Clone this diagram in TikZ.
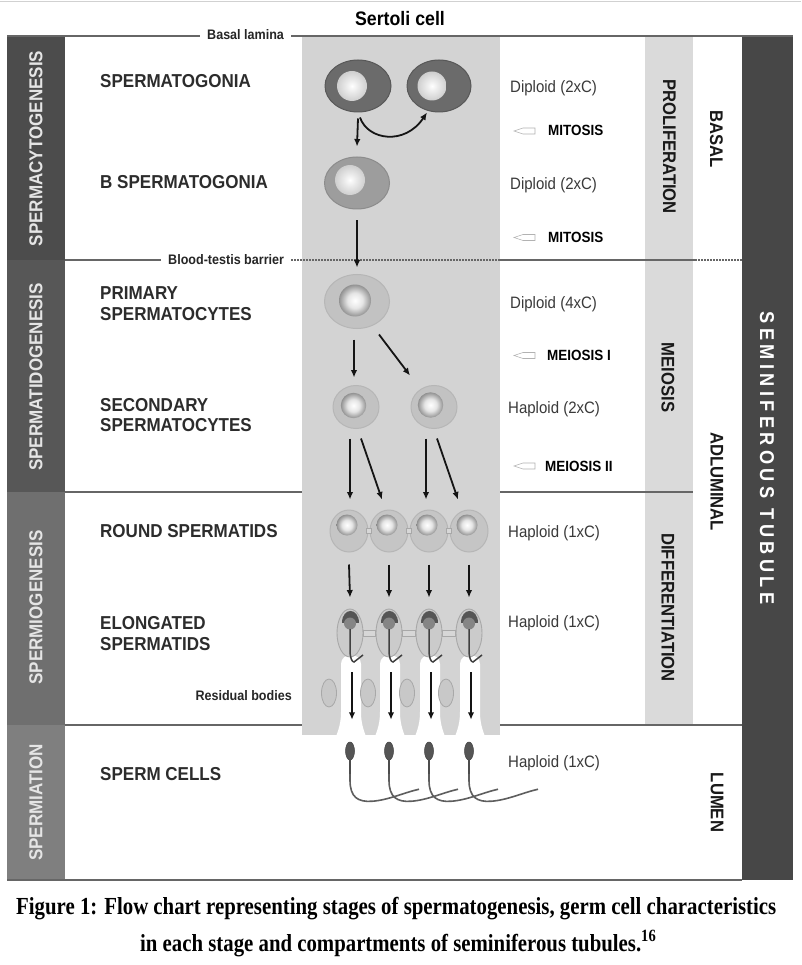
\documentclass[tikz,border=0pt]{standalone}
\usepackage{fontspec}
\setmainfont{Liberation Serif}
\setsansfont{Liberation Sans}[FakeStretch=0.91]
\usetikzlibrary{shapes.geometric,arrows.meta}
\definecolor{lbltxt}{HTML}{2C2C2C}
\definecolor{ploidtxt}{HTML}{3A3A3A}
\definecolor{linec}{HTML}{666666}
\definecolor{sertoli}{HTML}{D3D3D3}
\definecolor{prolif}{HTML}{DADADA}
\definecolor{colA}{HTML}{4C4C4C}
\definecolor{colB}{HTML}{575757}
\definecolor{colC}{HTML}{6F6F6F}
\definecolor{colD}{HTML}{7F7F7F}
\definecolor{barc}{HTML}{474747}
\definecolor{sgfill}{HTML}{6B6B6B}
\definecolor{sgdraw}{HTML}{585858}
\definecolor{bfill}{HTML}{9D9D9D}
\definecolor{bdraw}{HTML}{8C8C8C}
\definecolor{cfill}{HTML}{C2C2C2}
\definecolor{cdraw}{HTML}{B6B6B6}
\definecolor{efill}{HTML}{CBCBCB}
\definecolor{edraw}{HTML}{A8A8A8}
\definecolor{headc}{HTML}{555555}
\definecolor{tailc}{HTML}{5E5E5E}
\pgfdeclareradialshading{sgnuc}{\pgfpoint{0bp}{0bp}}{color(0bp)=(white); color(10bp)=(white!92!black); color(40bp)=(black!30); color(50bp)=(black!40)}
\pgfdeclareradialshading{spnuc}{\pgfpoint{0bp}{0bp}}{color(0bp)=(white); color(12bp)=(white!90!black); color(30bp)=(black!55); color(38bp)=(black!80); color(50bp)=(black!85)}
\begin{document}
\begin{tikzpicture}[x=1pt,y=-1pt,
  lbl/.style={anchor=base west, inner sep=0, text=lbltxt, font=\sffamily\bfseries\fontsize{18.7}{21}\selectfont},
  ploid/.style={anchor=base west, inner sep=0, text=ploidtxt, font=\sffamily\fontsize{16.5}{18}\selectfont},
  divlbl/.style={anchor=base west, inner sep=0, text=black, font=\sffamily\bfseries\fontsize{14.8}{16}\selectfont},
  smalllbl/.style={anchor=base west, inner sep=0, text=black!85, font=\sffamily\bfseries\fontsize{13.8}{15}\selectfont},
  vlab/.style={rotate=90, inner sep=0, text=white!90!black, font=\sffamily\bfseries\fontsize{18.7}{20}\selectfont},
  rlab/.style={rotate=-90, inner sep=0, text=black!90, font=\sffamily\bfseries\fontsize{18.3}{20}\selectfont},
  sepline/.style={draw=linec, line width=1.5},
  dotline/.style={draw=linec, line width=1.5, dash pattern=on 1.5pt off 1.5pt},
  arr/.style={draw=black!92, line width=1.8, -{Latex[length=7.5pt,width=6.5pt]}},
  cellA/.style={ellipse, inner sep=0, fill=sgfill, draw=sgdraw, line width=1},
  cellB/.style={ellipse, inner sep=0, fill=bfill, draw=bdraw, line width=1},
  cellC/.style={ellipse, inner sep=0, fill=cfill, draw=cdraw, line width=1},
  cellE/.style={ellipse, inner sep=0, fill=efill, draw=edraw, line width=0.9},
  resid/.style={ellipse, inner sep=0, minimum width=15, minimum height=28, fill=sertoli!95!black, draw=edraw, line width=0.8},
  bridge/.style={fill=sertoli!90!white, draw=edraw, line width=0.6},
  ptrshape/.style={draw=black!30, fill=white, line width=0.6}
]
\useasboundingbox (0,0) rectangle (801,965);
\fill[white] (0,0) rectangle (801,965);
\draw[black!18, line width=1] (0,2) -- (801,2);

% columns
\fill[colA] (7,36) rectangle (65,260);
\fill[colB] (7,260) rectangle (65,492);
\fill[colC] (7,492) rectangle (65,725);
\fill[colD] (7,725) rectangle (65,880);
\fill[barc] (742,36) rectangle (793,880);
\fill[prolif] (645,36) rectangle (693,725);

% Sertoli cell body with lumen gaps
\fill[sertoli] (302,36) rectangle (500,735);
\foreach \g in {351,390,430,470} {
  \fill[white] (\g-17,742) .. controls (\g-14,733) and (\g-10,726) .. (\g-10,712) -- (\g-10,664)
     .. controls (\g-10,652) and (\g+10,652) .. (\g+10,664) -- (\g+10,712)
     .. controls (\g+10,726) and (\g+14,733) .. (\g+17,742) -- cycle;
}

% title
\node[inner sep=0, font=\sffamily\bfseries\fontsize{19.5}{21}\selectfont] (title) at (400,19) {Sertoli cell};

% separating lines
\node[smalllbl] (bl) at (207,40) {Basal lamina};
\draw[sepline] (7,36) -- ([xshift=-7pt]bl.west |- 0,36);
\draw[sepline] ([xshift=7pt]bl.east |- 0,36) -- (793,36);
\node[smalllbl] (btb) at (168,265) {Blood-testis barrier};
\draw[sepline] (65,260) -- ([xshift=-7pt]btb.west |- 0,260);
\draw[dotline] ([xshift=7pt]btb.east |- 0,260) -- (500,260);
\draw[sepline] (500,260) -- (695,260);
\draw[dotline] (695,260) -- (742,260);
\draw[sepline] (65,492) -- (302,492);
\draw[sepline] (500,492) -- (693,492);
\draw[sepline] (65,725) -- (302,725);
\draw[sepline] (500,725) -- (742,725);
\draw[sepline] (7,880) -- (742,880);

% left column labels
\node[vlab] (v1) at (36,148.5) {SPERMACYTOGENESIS};
\node[vlab] (v2) at (36,377) {SPERMATIDOGENESIS};
\node[vlab] (v3) at (36,607.5) {SPERMIOGENESIS};
\node[vlab] (v4) at (36,802.5) {SPERMIATION};

% stage labels
\node[lbl] (l1) at (100,88) {SPERMATOGONIA};
\node[lbl] (l2) at (100,189) {B SPERMATOGONIA};
\node[lbl] (l3a) at (100,299) {PRIMARY};
\node[lbl] (l3b) at (100,320) {SPERMATOCYTES};
\node[lbl] (l4a) at (100,411) {SECONDARY};
\node[lbl] (l4b) at (100,431) {SPERMATOCYTES};
\node[lbl] (l5) at (100,537) {ROUND SPERMATIDS};
\node[lbl] (l6a) at (100,629) {ELONGATED};
\node[lbl] (l6b) at (100,650) {SPERMATIDS};
\node[lbl] (l7) at (100,780) {SPERM CELLS};
\node[smalllbl, anchor=base east] (rbl) at (292,700) {Residual bodies};

% ploidy labels
\node[ploid] (p1) at (510,93) {Diploid (2xC)};
\node[ploid] (p2) at (510,189.5) {Diploid (2xC)};
\node[ploid] (p3) at (510,308) {Diploid (4xC)};
\node[ploid] (p4) at (508,413) {Haploid (2xC)};
\node[ploid] (p5) at (508,537) {Haploid (1xC)};
\node[ploid] (p6) at (508,627) {Haploid (1xC)};
\node[ploid] (p7) at (508,767) {Haploid (1xC)};

% division labels with pointers
\foreach \yy/\nm/\txt/\xx in {131/d1/MITOSIS/548, 237.5/d2/MITOSIS/548, 355.5/d3/MEIOSIS I/547, 466/d4/MEIOSIS II/545} {
  \filldraw[ptrshape] (514,\yy) -- (523,\yy-3) -- (535,\yy-3) -- (535,\yy+3) -- (523,\yy+3) -- cycle;
  \node[divlbl] (\nm) at (\xx,\yy+5) {\txt};
}

% right column labels
\node[rlab] (c1) at (669.5,146.5) {PROLIFERATION};
\node[rlab] (c2) at (668,377.5) {MEIOSIS};
\node[rlab] (c3) at (668,607.5) {DIFFERENTIATION};
\node[rlab] (c4) at (716.5,139.5) {BASAL};
\node[rlab] (c5) at (716.7,481.5) {ADLUMINAL};
\node[rlab] (c6) at (717,802.5) {LUMEN};
\node[rotate=-90, inner sep=0, text=white, font=\sffamily\bfseries\fontsize{20}{22}\selectfont] (tub) at (767,458)
  {\addfontfeatures{LetterSpace=22}SEMINIFEROUS\hspace{10pt}TUBULE};

% spermatogonia
\node[cellA, minimum width=66, minimum height=52] (sg1) at (358,86) {};
\node[cellA, minimum width=64, minimum height=52] (sg2) at (439,86) {};
\shade[shading=sgnuc] (352,86) circle[radius=15];
\shade[shading=sgnuc] (432,86) circle[radius=14.5];
\node[cellB, minimum width=65, minimum height=52] (bsg) at (357,183) {};
\shade[shading=sgnuc] (350,180) circle[radius=15];

% spermatocytes
\node[cellC, minimum width=65, minimum height=54] (ps) at (357,301.5) {};
\shade[shading=spnuc] (355,300.5) circle[radius=16];
\node[cellC, minimum width=46, minimum height=43] (ss1) at (356,407) {};
\node[cellC, minimum width=46, minimum height=43] (ss2) at (434,407) {};
\shade[shading=spnuc] (353.5,405.5) circle[radius=12.7];
\shade[shading=spnuc] (430.5,405) circle[radius=12.7];

% round spermatids
\foreach \i/\x in {1/349,2/389,3/429,4/469} {
  \node[cellC, fill=cfill!80!sertoli, minimum width=38, minimum height=42] (rs\i) at (\x,531) {};
}
\foreach \i/\j in {1/2,2/3,3/4} {
  \filldraw[bridge] ([yshift=2.5pt,xshift=-2pt]rs\i.east) rectangle ([yshift=-2.5pt,xshift=2pt]rs\j.west);
}
\foreach \x in {349,389,429,469} {
  \shade[shading=spnuc] (\x-2,525) circle[radius=10.5];
}

% elongated spermatids
\foreach \i/\x in {1/350,2/389,3/429,4/469} {
  \node[cellE, minimum width=26, minimum height=48] (es\i) at (\x,633) {};
}
\foreach \i/\j in {1/2,2/3,3/4} {
  \filldraw[bridge] ([yshift=3pt]es\i.east) rectangle ([yshift=-3pt]es\j.west);
}
\foreach \x in {350,389,429,469} {
  \fill[headc] (\x-8.5,623) .. controls (\x-8.5,607) and (\x+8.5,607) .. (\x+8.5,623) -- cycle;
  \fill[black!48] (\x,623.5) circle[radius=6];
  \draw[black!75, line width=1.5] (\x,629) -- (\x,650) .. controls (\x,658) and (\x+2,662) .. (\x+4,662) -- (\x+13,655);
}

% residual bodies
\foreach \i/\x in {1/329,2/368,3/407,4/446} {
  \node[resid] (rb\i) at (\x,693) {};
}

% sperm cells
\foreach \i/\x in {1/350,2/389,3/429,4/469} {
  \node[ellipse, inner sep=0, minimum width=9, minimum height=18, fill=headc, draw=black!75, line width=0.5] (sp\i) at (\x,751) {};
  \draw[tailc, line width=1.6] (sp\i.south) -- ++(0,20)
     .. controls +(0,17) and +(-14,1) .. ++(22,21)
     .. controls +(16,-1) and +(-14,3) .. ++(47,-12);
  \draw[black!70, line width=2] (sp\i.south) -- ++(0,14);
}

% arrows
\draw[arr] ([yshift=-6pt]sg1.south) -- ([yshift=10pt]bsg.north);
\draw[arr] ([xshift=2pt,yshift=-5pt]sg1.south) .. controls +(8,23) and +(-22,33) .. ([xshift=-12pt]sg2.south);
\draw[arr] ([yshift=-11pt]bsg.south) -- ([yshift=6.5pt]ps.north);
\draw[arr] ([xshift=-3pt,yshift=-10.5pt]ps.south) -- ([xshift=-2pt,yshift=7.5pt]ss1.north);
\draw[arr] ([xshift=22pt,yshift=-5.5pt]ps.south) -- ([xshift=-24pt,yshift=9.5pt]ss2.north);
\draw[arr] ([xshift=-6pt,yshift=-9.5pt]ss1.south) -- ([xshift=1pt,yshift=10pt]rs1.north);
\draw[arr] ([xshift=5pt,yshift=-9.5pt]ss1.south) -- ([xshift=-7pt,yshift=10pt]rs2.north);
\draw[arr] ([xshift=-8pt,yshift=-9.5pt]ss2.south) -- ([xshift=-3pt,yshift=10pt]rs3.north);
\draw[arr] ([xshift=3pt,yshift=-9.5pt]ss2.south) -- ([xshift=-11pt,yshift=10pt]rs4.north);
\foreach \i in {1,2,3,4} {
  \draw[arr] ([yshift=-12pt]rs\i.south) -- ([yshift=11pt]es\i.north);
  \draw[arr] ([xshift=2pt,yshift=-15pt]es\i.south) -- ([xshift=2pt,yshift=22pt]sp\i.north);
}

% caption
\node[anchor=base west, inner sep=0] (cap1) at (16,914)
  {\resizebox{760pt}{\height}{\fontsize{24.5}{26}\selectfont\bfseries Figure 1: Flow chart representing stages of spermatogenesis, germ cell characteristics}};
\node[anchor=base west, inner sep=0] (cap2) at (140,951)
  {\resizebox{516pt}{\height}{\fontsize{24.5}{26}\selectfont\bfseries in each stage and compartments of seminiferous tubules.\textsuperscript{16}}};
\end{tikzpicture}
\end{document}
